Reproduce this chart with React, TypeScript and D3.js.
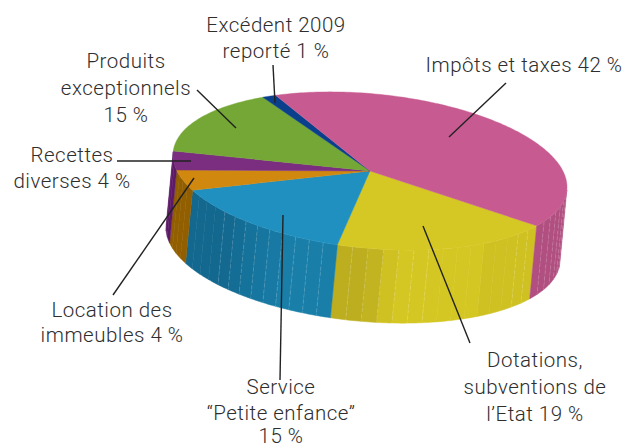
import React from "react";
import * as d3 from "d3";

const W = 625, H = 448;
const categories = ["Dotations", "Service Petite enfance", "Location des immeubles", "Recettes diverses", "Produits exceptionnels", "Excédent 2009", "Impôts et taxes"];
const shares = [18.7, 15.2, 4.1, 3.9, 15, 1.2, 41.9];
const topColors = ["#d6c824", "#2090c0", "#d0880f", "#7b2e7f", "#74a735", "#0a3f8c", "#c75b91"];
const wallDark = ["#bdae20", "#13688f", "#925f00", "#5c1a66", "#5a8a28", "#08306a", "#b04f80"];
const wallLight = ["#d5c723", "#197fa9", "#925f00", "#5c1a66", "#5a8a28", "#08306a", "#b04f80"];

const labels: { lines: string[]; x: number; y: number[] }[] = [
  { lines: ["Excédent 2009", "reporté 1 %"], x: 276, y: [32, 58] },
  { lines: ["Impôts et taxes 42 %"], x: 524, y: [72] },
  { lines: ["Produits", "exceptionnels", "15 %"], x: 126, y: [68, 95, 122] },
  { lines: ["Recettes", "diverses 4 %"], x: 72, y: [162, 188] },
  { lines: ["Location des", "immeubles 4 %"], x: 112, y: [317, 342] },
  { lines: ["Service", "“Petite enfance”", "15 %"], x: 281, y: [394, 420, 443] },
  { lines: ["Dotations,", "subventions de", "l’Etat 19 %"], x: 535, y: [367, 394, 421] },
];
const leaders: [number, number, number, number][] = [
  [273, 65, 275, 103],
  [506, 83, 449, 137],
  [197, 90, 236, 128],
  [117, 161, 191, 161],
  [113, 295, 194, 178],
  [280, 380, 283, 215],
  [470, 343, 423, 226],
];

// Pie geometry: a sheared ellipse extruded along a slanted direction
const cx = 370, cy = 171, a = 197, b = 77.5, shear = 16;
const dx = -7, dy = 73;
const deg = Math.PI / 180;
const startAngle = 32.2 * deg;
const facetStep = 4.5 * deg;

const project = (t: number, drop = 0): [number, number] => [
  cx + a * Math.cos(t) + dx * drop,
  cy + b * Math.sin(t) + shear * Math.cos(t) + dy * drop,
];
const silhouetteStart = Math.atan2(-dx * b, a * dy + -dx * shear);
const silhouetteEnd = silhouetteStart + Math.PI;

const pie = d3.pie<number>().sort(null).startAngle(startAngle).endAngle(startAngle + 2 * Math.PI);
const arcs = pie(shares);
const line = d3.line();

const sample = (t0: number, t1: number, drop = 0) => {
  const n = Math.max(2, Math.ceil(Math.abs(t1 - t0) / (1 * deg)));
  return d3.range(n + 1).map((i) => project(t0 + ((t1 - t0) * i) / n, drop));
};

// Visible ranges of the wall (angles wrap past 360 degrees)
const visibleRanges = (t0: number, t1: number): [number, number][] => {
  const out: [number, number][] = [];
  for (const shift of [0, 2 * Math.PI]) {
    const s = Math.max(t0, silhouetteStart + shift);
    const e = Math.min(t1, silhouetteEnd + shift);
    if (e > s) out.push([s, e]);
  }
  return out;
};

const facetColor = (i: number, t: number) => {
  const d = t / deg;
  if (i === 0) {
    const u = d < 56 ? 0.75 : d < 82 ? 1 : 1 - Math.min(1, (d - 82) / 8);
    return d3.interpolateRgb(wallDark[i], wallLight[i])(u);
  }
  if (i === 1) {
    const u = d > 136 ? 0 : Math.min(1, (136 - d) / 22);
    return d3.interpolateRgb(wallDark[i], wallLight[i])(u);
  }
  return wallDark[i];
};

export default function App() {
  const walls: React.ReactNode[] = [];
  arcs.forEach((arc, i) => {
    visibleRanges(arc.startAngle, arc.endAngle).forEach(([s, e], r) => {
      const n = Math.max(1, Math.ceil((e - s) / facetStep));
      d3.range(n).forEach((k) => {
        const t0 = s + ((e - s) * k) / n;
        const t1 = s + ((e - s) * (k + 1)) / n;
        const pts = [...sample(t0, t1, 0), ...sample(t1, t0, 1)];
        const fill = facetColor(i, (t0 + t1) / 2);
        walls.push(
          <path key={`w${i}-${r}-${k}`} d={line(pts as [number, number][]) + "Z"} fill={fill} stroke={fill} strokeWidth={0.5} />
        );
      });
      d3.range(1, n).forEach((k) => {
        const t0 = s + ((e - s) * k) / n;
        const showLine = i === 0 ? !(t0 / deg > 44 && t0 / deg < 70) : i === 1 ? t0 / deg < 138 : i === 6;
        if (showLine) {
          const [x1, y1] = project(t0, 0);
          const [x2, y2] = project(t0, 1);
          walls.push(
            <line key={`l${i}-${r}-${k}`} x1={x1} y1={y1} x2={x2} y2={y2} stroke="#ffffff" strokeOpacity={0.22} strokeWidth={0.8} strokeDasharray="4 2" />
          );
        }
      });
    });
  });

  return (
    <svg width={W} height={H} style={{ position: "absolute", left: 0, top: 0, background: "#fff" }}>
      {walls}
      {arcs.map((arc, i) => (
        <path
          key={categories[i]}
          d={line([[cx, cy], ...sample(arc.startAngle, arc.endAngle, 0)] as [number, number][]) + "Z"}
          fill={topColors[i]}
          stroke={topColors[i]}
          strokeWidth={0.4}
        />
      ))}
      {leaders.map(([x1, y1, x2, y2], i) => (
        <line key={i} x1={x1} y1={y1} x2={x2} y2={y2} stroke="#222" strokeWidth={1.4} />
      ))}
      <g fontFamily="Roboto, sans-serif" fontSize={20.5} fontWeight={300} letterSpacing={0.5} fill="#2e2e2e" textAnchor="middle">
        {labels.flatMap((l) =>
          l.lines.map((s, j) => (
            <text key={s} x={l.x} y={l.y[j]}>
              {s}
            </text>
          ))
        )}
      </g>
    </svg>
  );
}
